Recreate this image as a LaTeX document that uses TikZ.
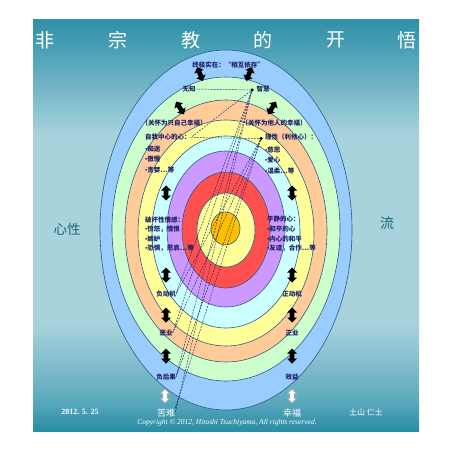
\documentclass[tikz,border=0pt]{standalone}
\usepackage{fontspec}
\usetikzlibrary{shapes.arrows}
\newfontfamily\cjk{Noto Sans CJK SC}
\newfontfamily\tms{Liberation Serif}
\newcommand{\bul}{{\tms\bfseries\char"2022}}
\definecolor{bgdark}{HTML}{2A8CA5}
\definecolor{bgmid}{HTML}{5FABBE}
\definecolor{bglight}{HTML}{A8D2DC}
\definecolor{bgtop}{HTML}{2F90A8}
\definecolor{cblue}{HTML}{99CCFF}
\definecolor{cgreen}{HTML}{CCFFCC}
\definecolor{cpeach}{HTML}{FFCC99}
\definecolor{cyel}{HTML}{FFFF99}
\definecolor{ccyan}{HTML}{CCFFFF}
\definecolor{cpurp}{HTML}{CC99FF}
\definecolor{cred}{HTML}{FF5050}
\definecolor{ccore}{HTML}{FFC000}
\definecolor{eline}{HTML}{2E5A8A}
\definecolor{txtblue}{HTML}{1C2068}
\definecolor{sidetxt}{HTML}{1E6878}
\pgfdeclareverticalshading{bgsh}{100bp}{color(0bp)=(bgdark); color(25bp)=(bgdark); color(29bp)=(bgmid); color(38bp)=(bglight); color(61bp)=(bglight); color(69bp)=(bgmid); color(75bp)=(bgtop); color(100bp)=(bgtop)}
\tikzset{
  band/.style={draw=eline, line width=0.6pt},
  lbl/.style={font=\cjk\bfseries\fontsize{6.5}{7.5}\selectfont, text=txtblue, inner sep=0pt},
  ttl/.style={font=\cjk\fontsize{19}{20}\selectfont, text=white, inner sep=0pt},
  wtxt/.style={font=\cjk\fontsize{9}{10}\selectfont, text=white, inner sep=0pt},
  dsh/.style={draw=txtblue, line width=0.45pt, dash pattern=on 1.8pt off 1.2pt},
  darr/.style={double arrow, fill=black, draw=none, minimum height=15pt, minimum width=10pt, double arrow head extend=2pt, inner sep=1.5pt},
  warr/.style={double arrow, fill=white, draw=gray!70, line width=0.4pt, minimum height=14pt, minimum width=9pt, double arrow head extend=1.8pt, inner sep=1.3pt, rotate=90},
  dotm/.style={circle, fill=black, inner sep=0pt, minimum size=3.5pt}
}
\begin{document}
\begin{tikzpicture}[x=1pt,y=-1pt]
\useasboundingbox (0,0) rectangle (452,452);
\fill[white] (0,0) rectangle (452,452);
\shade[shading=bgsh] (33,20) rectangle (419,431);
% title
\node[ttl] (t1) at (45,40) {非};
\node[ttl] (t2) at (118,40) {宗};
\node[ttl] (t3) at (191,40) {教};
\node[ttl] (t4) at (263,40) {的};
\node[ttl] (t5) at (336,40) {开};
\node[ttl] (t6) at (407,40) {悟};
% ellipses
\filldraw[band, fill=cblue] (226,230) ellipse [x radius=126, y radius=180];
\filldraw[band, fill=cgreen] (226,229) ellipse [x radius=114, y radius=152];
\filldraw[band, fill=cpeach] (226,231) ellipse [x radius=101, y radius=131];
\filldraw[band, fill=cyel] (226,233) ellipse [x radius=88, y radius=113];
\filldraw[band, fill=ccyan] (226,232) ellipse [x radius=74, y radius=96];
\filldraw[band, fill=cpurp] (226,229) ellipse [x radius=59, y radius=78];
\filldraw[band, fill=cred] (226,230) ellipse [x radius=44, y radius=58];
\filldraw[band, fill=cyel] (226,230) ellipse [x radius=29, y radius=37];
\filldraw[band, fill=ccore] (225.5,228.5) ellipse [x radius=14.5, y radius=16.5];
% side texts
\node[font=\cjk\fontsize{13.5}{15}\selectfont, text=sidetxt, inner sep=0pt] (xx) at (67,229) {心性};
\node[font=\cjk\fontsize{14}{15}\selectfont, text=sidetxt, inner sep=0pt] (ll) at (387,223) {流};
% labels
\node[lbl] (zj) at (228,65) {终极实在：“相互依存”};
\node[lbl] (wz) at (189,89) {无知};
\node[lbl] (zh) at (263,89) {智慧};
\node[dotm] (zhd) at (252,90) {};
\node[lbl] (gz) at (174,123) {（关怀为只自己幸福）};
\node[lbl] (gt) at (274,123) {（关怀为他人的幸福）};
\node[lbl, anchor=west] (zw) at (145,137.5) {自我中心的心：};
\node[lbl, anchor=west] (l1) at (145,149) {\bul 痴迷};
\node[lbl, anchor=west] (l2) at (145,159.5) {\bul 傲慢};
\node[lbl, anchor=west] (l3) at (145,170) {\bul 贪婪…等};
\node[lbl, anchor=west] (lx) at (265,137.5) {理性（利他心）：};
\node[dotm] (lxd) at (261,138.5) {};
\node[lbl, anchor=west] (r1) at (265,150) {\bul 慈悲};
\node[lbl, anchor=west] (r2) at (265,160.5) {\bul 爱心};
\node[lbl, anchor=west] (r3) at (265,171) {\bul 温柔…等};
\node[lbl, anchor=west] (ph) at (145,220) {破坏性情感：};
\node[lbl, anchor=west] (p1) at (145,229.5) {\bul 愤怒，憎恨};
\node[lbl, anchor=west] (p2) at (145,239) {\bul 嫉妒};
\node[lbl, anchor=west] (p3) at (145,248.5) {\bul 恐惧，悲哀…等};
\node[lbl, anchor=west] (pj) at (267,219.5) {平静的心：};
\node[lbl, anchor=west] (q1) at (267,229.5) {\bul 和平的心};
\node[lbl, anchor=west] (q2) at (267,239) {\bul 内心的和平};
\node[lbl, anchor=west] (q3) at (267,248.5) {\bul 友谊，合作…等};
\node[lbl] (fd) at (166,294) {负动机};
\node[lbl] (zd) at (292,294) {正动机};
\node[lbl] (ey) at (166,333) {恶业};
\node[lbl] (zy) at (292,333) {正业};
\node[lbl] (fh) at (166,377) {负后果};
\node[lbl] (xy) at (292,377) {效益};
% bottom texts
\node[wtxt] (kn) at (166,413) {苦难};
\node[wtxt] (xf) at (292,413) {幸福};
\node[font=\tms\bfseries\fontsize{8}{9}\selectfont, text=white, inner sep=0pt] (dt) at (80,412) {2012. 5. 25};
\node[font=\cjk\fontsize{8}{9}\selectfont, text=white, inner sep=0pt] (au) at (366,412) {土山 仁士};
\node[font=\tms\itshape\fontsize{7.5}{8}\selectfont, text=white, inner sep=0pt] (cp) at (227,423) {Copyright \textcopyright{} 2012, Hitoshi Tsuchiyama, All rights reserved.};
% dashed lines
\draw[dsh] (wz.east) -- (zhd);
\draw[dsh] (zw.east) -- (lxd);
\draw[dsh] (zhd) -- (zw.east);
\draw[dsh] (zhd) -- (fd.east);
\draw[dsh] (zhd) -- (ey.east);
\draw[dsh] (zhd) -- (fh.east);
\draw[dsh] (zhd) -- (kn.east);
\draw[dsh] (lxd) -- (fd.east);
\draw[dsh] (lxd) -- (ey.east);
\draw[dsh] (lxd) -- (fh.east);
\draw[dsh] (lxd) -- (kn.north east);
% black double arrows
\node[darr, rotate=112] (a1) at (200,74) {};
\node[darr, rotate=68] (a2) at (249,74) {};
\node[darr, rotate=122] (a3) at (180,108) {};
\node[darr, rotate=58] (a4) at (272,108) {};
\node[darr, rotate=90] (a5) at (166,193) {};
\node[darr, rotate=90] (a6) at (292,193) {};
\node[darr, rotate=90] (a7) at (166,275) {};
\node[darr, rotate=90] (a8) at (292,275) {};
\node[darr, rotate=90] (a9) at (166,315) {};
\node[darr, rotate=90] (a10) at (292,315) {};
\node[darr, rotate=90] (a11) at (166,356) {};
\node[darr, rotate=90] (a12) at (292,356) {};
% white double arrows
\node[warr] (w1) at (165,396) {};
\node[warr] (w2) at (292,396) {};
\end{tikzpicture}
\end{document}
